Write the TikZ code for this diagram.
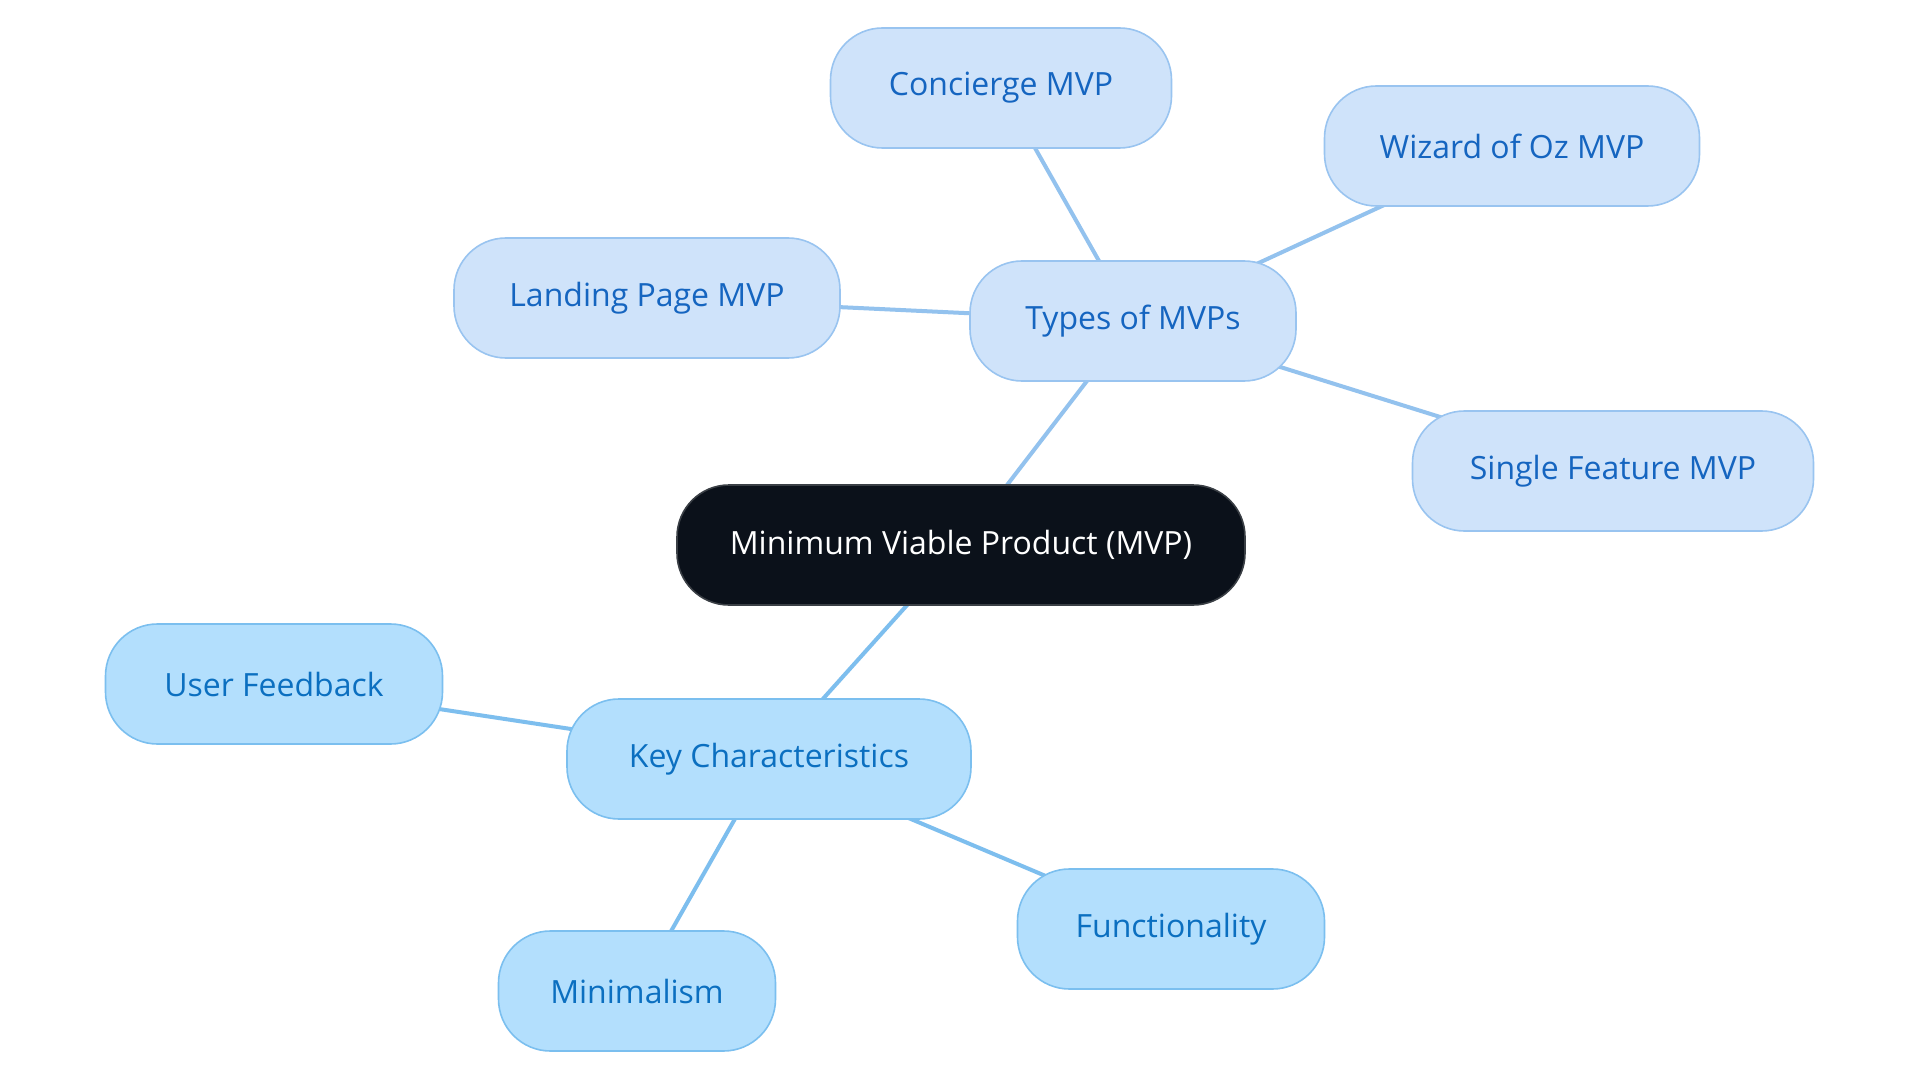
\documentclass[tikz,border=0pt]{standalone}
\usepackage{fontspec}
\setmainfont{Open Sans}
\usetikzlibrary{backgrounds}
\definecolor{rootfill}{HTML}{0B111A}
\definecolor{rootdraw}{HTML}{3A3F45}
\definecolor{tfill}{HTML}{CFE3FA}
\definecolor{tdraw}{HTML}{99C4F0}
\definecolor{ttext}{HTML}{1565C0}
\definecolor{kfill}{HTML}{B3DFFD}
\definecolor{kdraw}{HTML}{7BBFEF}
\definecolor{ktext}{HTML}{0B6FC0}
\definecolor{tline}{HTML}{93C2EE}
\definecolor{kline}{HTML}{7DBEEE}
\tikzset{
  pill/.style={rounded corners=52pt, minimum height=120pt, line width=1.6pt, font=\fontsize{32}{38}\selectfont, inner sep=0pt},
  rootbox/.style={pill, fill=rootfill, draw=rootdraw, text=white},
  tbox/.style={pill, fill=tfill, draw=tdraw, text=ttext},
  kbox/.style={pill, fill=kfill, draw=kdraw, text=ktext},
  tedge/.style={draw=tline, line width=4pt},
  kedge/.style={draw=kline, line width=4pt}
}
\begin{document}
\begin{tikzpicture}[x=1pt,y=-1pt]
\useasboundingbox (0,0) rectangle (1920,1083);
\node[rootbox, minimum width=568pt] (root) at (961,545) {Minimum Viable Product (MVP)};
\node[tbox, minimum width=326pt] (types) at (1133,321) {Types of MVPs};
\node[tbox, minimum width=341pt] (conc) at (1001,88) {Concierge MVP};
\node[tbox, minimum width=375pt] (wiz) at (1512,146) {Wizard of Oz MVP};
\node[tbox, minimum width=386pt] (land) at (647,298) {Landing Page MVP};
\node[tbox, minimum width=401pt] (single) at (1613,471) {Single Feature MVP};
\node[kbox, minimum width=404pt] (key) at (769,759) {Key Characteristics};
\node[kbox, minimum width=337pt] (user) at (274,684) {User Feedback};
\node[kbox, minimum width=277pt] (mini) at (637,991) {Minimalism};
\node[kbox, minimum width=307pt] (func) at (1171,929) {Functionality};
\begin{scope}[on background layer]
\fill[white] (0,0) rectangle (1920,1083);
\draw[tedge] (root.center) -- (types.center);
\draw[tedge] (types.center) -- (conc.center);
\draw[tedge] (types.center) -- (wiz.center);
\draw[tedge] (types.center) -- (land.center);
\draw[tedge] (types.center) -- (single.center);
\draw[kedge] (root.center) -- (key.center);
\draw[kedge] (key.center) -- (user.center);
\draw[kedge] (key.center) -- (mini.center);
\draw[kedge] (key.center) -- (func.center);
\end{scope}
\end{tikzpicture}
\end{document}
